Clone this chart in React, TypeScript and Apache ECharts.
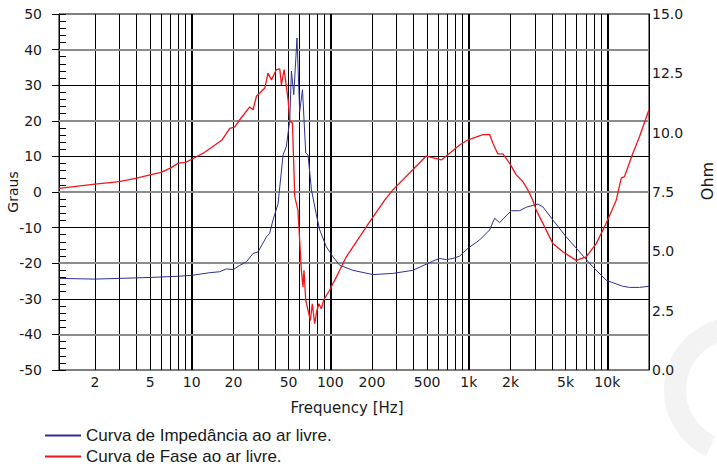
import React, { useEffect, useRef } from "react";
import * as echarts from "echarts";

// Impedance curve (Ohm) vs frequency (Hz)
const impFreq = [
  1.1, 2, 3, 5, 8, 10, 13.5, 15.9, 17.8, 19.9, 22.2, 24.8, 27.7, 30.1, 34.6, 36.5, 38.6, 42, 42.7,
  45.6, 48.2, 51, 52.4, 54.5, 57.5, 60.1, 63, 66.5, 69.1, 73.1, 79.4, 83.9, 93.7, 104.5, 117,
  145.8, 203, 283, 395, 551, 615, 688, 768, 859, 982, 1197, 1413, 1535, 1667, 2026, 2328, 2602,
  3155, 3430, 4044, 5046, 6297, 7859, 9823, 12900, 14500, 17100, 20000,
];
const impOhm = [
  3.86, 3.83, 3.86, 3.9, 3.95, 3.99, 4.1, 4.14, 4.26, 4.23, 4.41, 4.56, 4.91, 4.98, 5.61, 5.76, 6.32, 7.02, 7.44,
  9.06, 9.42, 10.55, 12.59, 11.6, 13.99, 10.89, 11.81, 9.14, 9.06, 7.59, 6.53, 5.9, 5.19, 4.77, 4.41,
  4.2, 4.02, 4.07, 4.2, 4.59, 4.7, 4.65, 4.7, 4.8, 5.12, 5.48, 5.9, 6.39, 6.21, 6.71, 6.71, 6.86,
  6.99, 6.87, 6.32, 5.61, 4.98, 4.35, 3.78, 3.53, 3.48, 3.48, 3.53,
];

// Phase curve (degrees) vs frequency (Hz)
const phaseFreq = [
  1.1, 2, 3, 4, 5, 6, 7, 8, 9, 10, 12.1, 14.2, 16.5, 18.8, 20.4, 22.2, 26.2, 27.7, 29.3, 33.7,
  35.5, 37.6, 40.8, 43.2, 44.4, 46.4, 49.6, 51, 53.3, 55.4, 56.9, 58.4, 60.1, 61.8, 63.5, 64.6,
  66.5, 69.1, 71.8, 74.2, 77.2, 80.1, 82.8, 86.2, 89.6, 93.7, 99, 104.5, 110.6, 120.2, 130.6,
  145.8, 192.3, 247, 283, 493, 634, 859, 982, 1264, 1413, 1493, 1622, 1762, 1969, 2201, 2456,
  2668, 2899, 3068, 3624, 4044, 4775, 5966, 7047, 8318, 9823, 11600, 12600, 13300, 15300, 17100, 20000,
];
const phaseDeg = [
  1.0, 2.2, 2.9, 3.9, 4.8, 5.5, 6.7, 8.1, 8.3, 9.2, 10.9, 12.8, 14.6, 17.9, 18.2, 20.3, 23.9, 23.1, 26.9, 29.2,
  33.4, 31.5, 34.4, 34.6, 30.1, 34.4, 25.9, 19.8, 19.4, -1.3, -3.2, -5.1, -13.5, -22, -26.7, -22,
  -30.4, -33.2, -36.1, -31.4, -37, -33.2, -31.4, -32.8, -30.4, -29, -27.6, -25.7, -23.9, -21, -18.2,
  -15.4, -8.4, -2.3, 0.6, 10.1, 9.0, 13.2, 14.6, 16.1, 16.2, 13.7, 10.7, 10.7, 8.1, 4.8, 2.9,
  0.6, -2.3, -5.1, -10.7, -14.5, -16.8, -19.2, -18.2, -14.5, -8.8, -2.3, 3.9, 4.3, 10.9, 15.6, 23.1,
];

// Axis / grid definitions
const gridFreqs = [
  2, 3, 4, 5, 6, 7, 8, 9, 10, 20, 30, 40, 50, 60, 70, 80, 90, 100, 200, 300, 400, 500, 600, 700, 800,
  900, 1000, 2000, 3000, 4000, 5000, 6000, 7000, 8000, 9000, 10000,
];
const labeledFreqs = [2, 5, 10, 20, 50, 100, 200, 500, 1000, 2000, 5000, 10000];
const decadeFreqs = [10, 100, 1000, 10000];
const degLines = [-40, -30, -20, -10, 0, 10, 20, 30, 40];
const grayDegLines = [-40, -20, 0, 20, 40];

const IMP_NAME = "Curva de Impedância ao ar livre.";
const PHASE_NAME = "Curva de Fase ao ar livre.";
const TICK_FONT = "DejaVu Sans";
const LEGEND_FONT = "Liberation Sans";

function fmtHz(v: number): string {
  return v >= 1000 ? v / 1000 + "k" : String(v);
}

export default function App() {
  const ref = useRef<HTMLDivElement>(null);

  useEffect(() => {
    if (!ref.current) return;
    const chart = echarts.init(ref.current, undefined, { renderer: "svg" });

    const vLines = gridFreqs.map((f) => ({
      xAxis: f,
      lineStyle: { color: "#000", width: decadeFreqs.includes(f) ? 2 : 1, type: "solid" },
      label: labeledFreqs.includes(f)
        ? {
            show: true,
            position: "start",
            formatter: fmtHz(f),
            color: "#1a1a1a",
            fontSize: 14,
            fontFamily: TICK_FONT,
            distance: 5,
          }
        : { show: false },
    }));
    const hLines = degLines.map((d) => {
      const gray = grayDegLines.includes(d);
      return {
        yAxis: d,
        lineStyle: { color: gray ? "#8c8c8c" : "#000", width: gray ? 2 : 1, type: "solid" },
        label: { show: false },
      };
    });

    const legendBase = {
      orient: "horizontal",
      left: 45,
      itemWidth: 36,
      itemHeight: 2,
      icon: "rect",
      textStyle: { fontFamily: LEGEND_FONT, fontSize: 17, color: "#1a1a1a" },
      selectedMode: false,
      padding: 0,
    };

    const option: any = {
      animation: false,
      backgroundColor: "#fff",
      grid: {
        left: 59,
        top: 14,
        width: 590,
        height: 356,
        show: true,
        borderColor: "#000",
        borderWidth: 1,
        backgroundColor: "transparent",
        outerBoundsMode: "none",
        containLabel: false,
      },
      legend: [
        { ...legendBase, top: 427, data: [IMP_NAME] },
        { ...legendBase, top: 448, data: [PHASE_NAME] },
      ],
      xAxis: {
        type: "log",
        logBase: 10,
        min: 1.1,
        max: 20000,
        axisLine: { show: true, lineStyle: { color: "#000", width: 1 } },
        axisTick: { show: false },
        axisLabel: { show: false },
        splitLine: { show: false },
        minorSplitLine: { show: false },
      },
      yAxis: [
        {
          type: "value",
          position: "left",
          min: -50,
          max: 50,
          interval: 10,
          axisLine: { show: true, lineStyle: { color: "#000", width: 1 } },
          axisTick: { show: true, inside: false, length: 7, lineStyle: { color: "#000" } },
          axisLabel: { margin: 17, color: "#1a1a1a", fontSize: 14, fontFamily: TICK_FONT },
          splitLine: { show: false },
        },
        {
          type: "value",
          position: "right",
          min: 0,
          max: 15,
          interval: 2.5,
          axisLine: { show: true, lineStyle: { color: "#000", width: 1 } },
          axisTick: { show: false },
          axisLabel: {
            margin: 3,
            color: "#1a1a1a",
            fontSize: 14,
            fontFamily: TICK_FONT,
            formatter: (v: number) => v.toFixed(1),
          },
          splitLine: { show: false },
        },
        {
          type: "value",
          position: "left",
          min: -50,
          max: 50,
          interval: 10,
          axisLine: { show: false },
          axisTick: { show: true, inside: true, length: 7, lineStyle: { color: "#000" } },
          minorTick: { show: true, splitNumber: 5, length: 7, lineStyle: { color: "#000" } },
          axisLabel: { show: false },
          splitLine: { show: false },
          minorSplitLine: { show: false },
        },
      ],
      graphic: [
        {
          type: "arc",
          z: -10,
          silent: true,
          shape: { cx: 737, cy: 390, r: 62, startAngle: Math.PI * 0.64, endAngle: Math.PI * 1.42, clockwise: true },
          style: { stroke: "#f3f3f3", lineWidth: 22, fill: "none" },
        },
        {
          type: "text",
          x: 347,
          y: 408,
          style: {
            text: "Frequency [Hz]",
            fontSize: 15,
            fontFamily: TICK_FONT,
            fill: "#1a1a1a",
            textAlign: "center",
            textVerticalAlign: "middle",
          },
        },
        {
          type: "text",
          x: 13,
          y: 192,
          rotation: Math.PI / 2,
          style: {
            text: "Graus",
            fontSize: 14,
            fontFamily: TICK_FONT,
            fill: "#1a1a1a",
            textAlign: "center",
            textVerticalAlign: "middle",
          },
        },
        {
          type: "text",
          x: 707,
          y: 181,
          rotation: Math.PI / 2,
          style: {
            text: "Ohm",
            fontSize: 16,
            fontFamily: TICK_FONT,
            fill: "#1a1a1a",
            textAlign: "center",
            textVerticalAlign: "middle",
          },
        },
      ],
      series: [
        {
          name: IMP_NAME,
          type: "line",
          xAxisIndex: 0,
          yAxisIndex: 1,
          showSymbol: false,
          symbol: "none",
          z: 3,
          color: "#2e3192",
          lineStyle: { color: "#2e3192", width: 1 },
          data: impFreq.map((f, i) => [f, impOhm[i]]),
        },
        {
          name: PHASE_NAME,
          type: "line",
          xAxisIndex: 0,
          yAxisIndex: 0,
          showSymbol: false,
          symbol: "none",
          z: 4,
          color: "#f0161c",
          lineStyle: { color: "#f0161c", width: 1.3 },
          data: phaseFreq.map((f, i) => [f, phaseDeg[i]]),
          markLine: {
            silent: true,
            symbol: ["none", "none"],
            z: 1,
            animation: false,
            data: [...vLines, ...hLines],
          },
        },
      ],
    };

    chart.setOption(option);
    return () => chart.dispose();
  }, []);

  return (
    <div
      ref={ref}
      style={{ position: "fixed", left: 0, top: 0, width: 717, height: 468, background: "#fff" }}
    />
  );
}
